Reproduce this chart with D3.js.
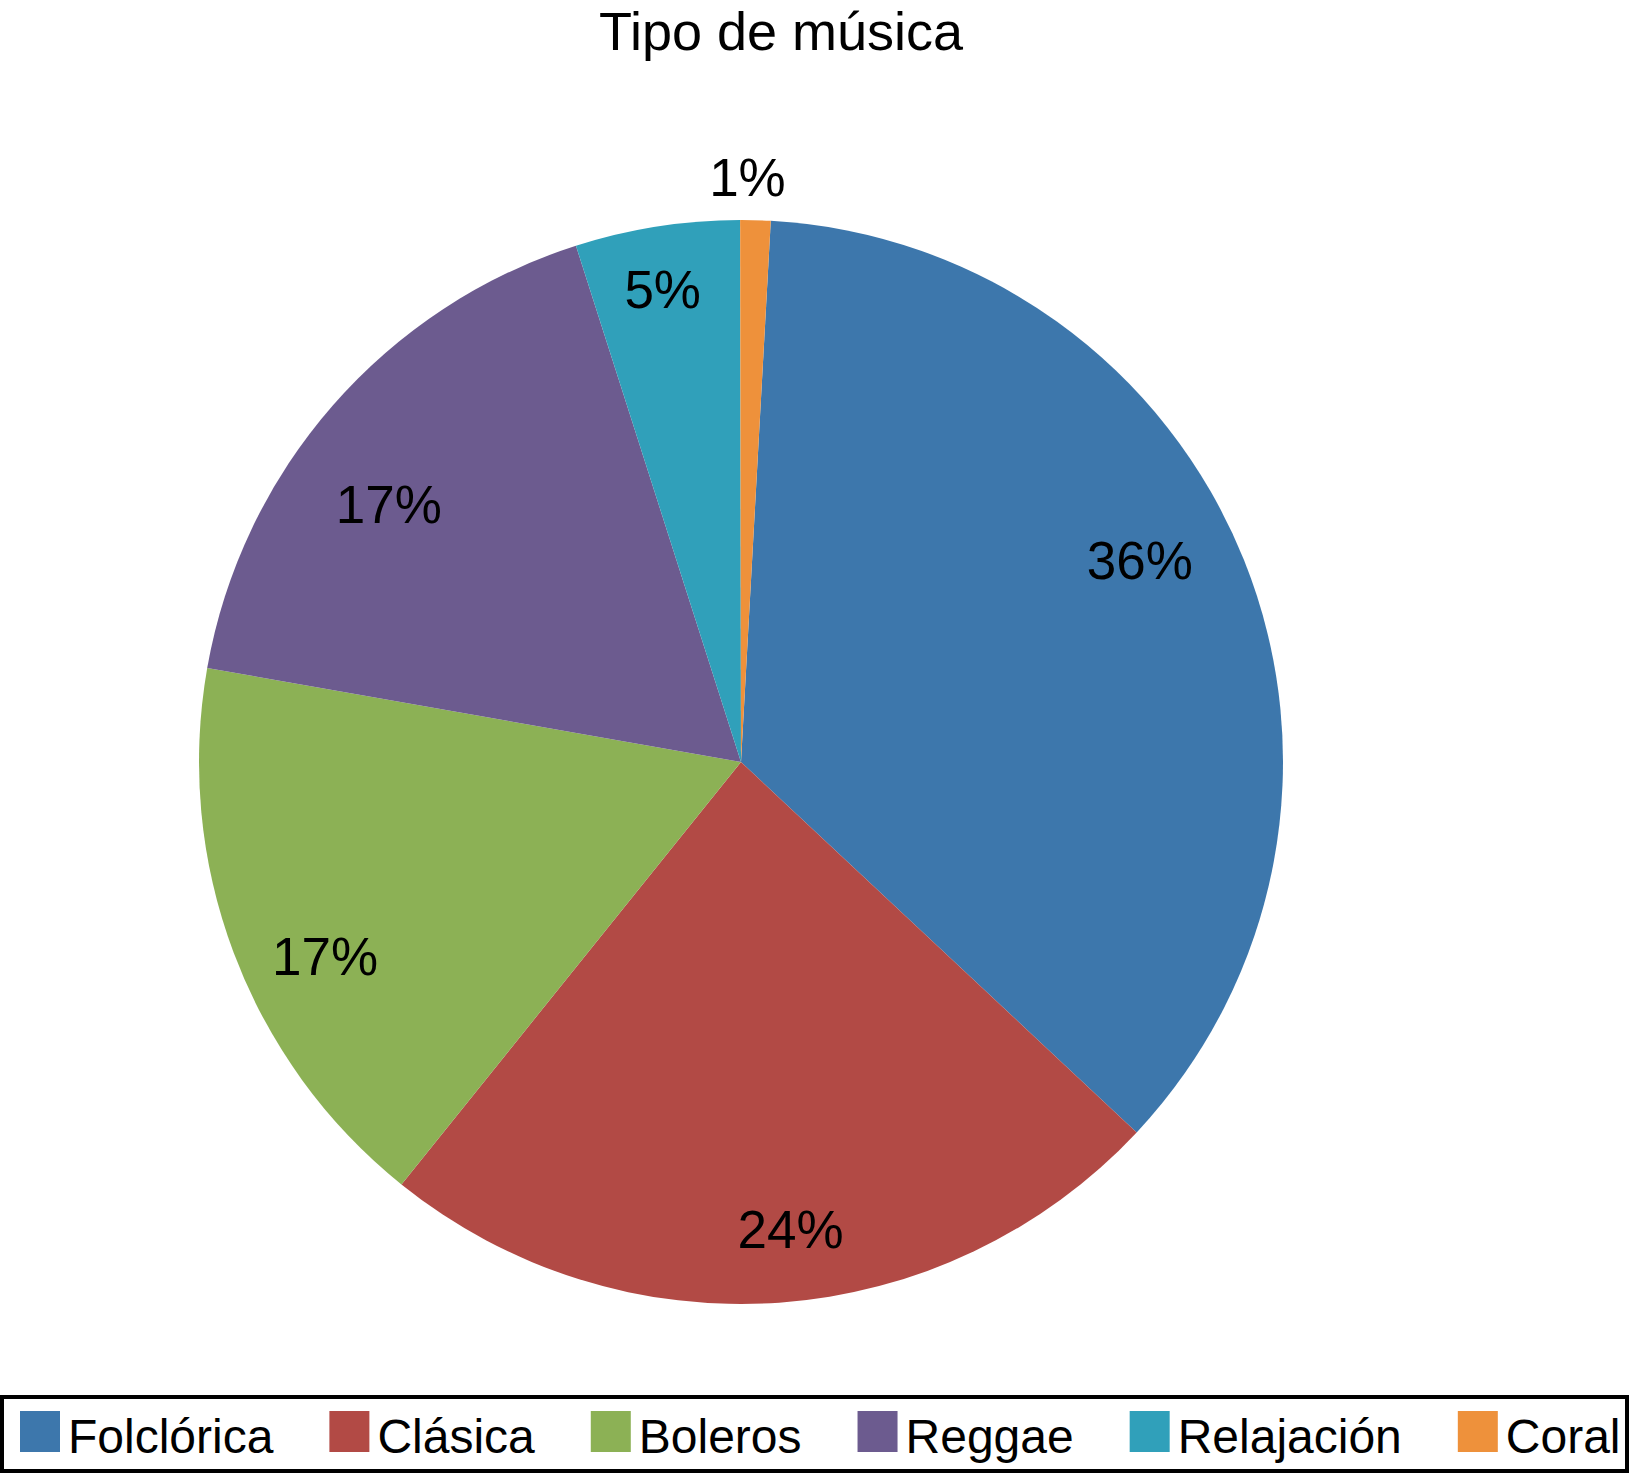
<!DOCTYPE HTML>
<html>
<head>
  <meta charset="utf-8">
  <title>Tipo de música</title>
  <script src="https://d3js.org/d3.v7.min.js" type="text/javascript"></script>
<style>
body { margin: 0; background: #fff; }
text { font-family: "Liberation Sans", Arial, Helvetica, sans-serif; fill: #000; }
</style>
</head>
<body>
<script>
// data (percent of answers)
const categories = ["Folclórica", "Clásica", "Boleros", "Reggae", "Relajación", "Coral"]
const values = [36.1, 23.8, 17.0, 17.3, 4.9, 0.9]
const colors = ["#3D77AC", "#B24A45", "#8CB155", "#6C5B8F", "#30A0BA", "#EE913B"]
const title = "Tipo de música"

// label placement tweaks (Excel "best fit"), degrees and radius
const labelNudge = [-5, -2, -4.4, -5, -0.5, -0.9]
const labelRadius = [447, 470, 459, 436, 479, 585]

const W = 1629, H = 1477
const cx = 741, cy = 762, R = 542
const rad = Math.PI / 180

var svg = d3.select("body").append("svg")
    .attr("width", W)
    .attr("height", H)

svg.append("text")
  .attr("x", 781)
  .attr("y", 50)
  .attr("text-anchor", "middle")
  .style("font-size", "54px")
  .text(title)

var data = categories.map(function(c, i) { return {name: c, value: values[i], color: colors[i], i: i} })

var pie = d3.pie()
    .sort(null)
    .value(function(d) { return d.value })
    .startAngle(3.15 * rad)
    .endAngle(3.15 * rad + 2 * Math.PI)

var arc = d3.arc().innerRadius(0).outerRadius(R)

var g = svg.append("g").attr("transform", "translate(" + cx + "," + cy + ")")

var arcs = pie(data)
g.selectAll("path.slice")
  .data(arcs)
  .enter().append("path")
  .attr("class", "slice")
  .attr("d", arc)
  .attr("fill", function(d) { return d.data.color })

g.selectAll("text.lbl")
  .data(arcs)
  .enter().append("text")
  .attr("class", "lbl")
  .attr("transform", function(d) {
    var i = d.data.i
    var a = (d.startAngle + d.endAngle) / 2 + labelNudge[i] * rad
    var r = labelRadius[i]
    var c = d3.arc().innerRadius(r).outerRadius(r).centroid({startAngle: a, endAngle: a})
    return "translate(" + c[0] + "," + c[1] + ")"
  })
  .attr("dy", "0.35em")
  .attr("text-anchor", "middle")
  .style("font-size", "53px")
  .text(function(d) { return Math.round(d.data.value) + "%" })

// legend
var leg = svg.append("g")
leg.append("rect")
  .attr("x", 2).attr("y", 1397)
  .attr("width", W - 4).attr("height", 74)
  .attr("fill", "none")
  .attr("stroke", "#000")
  .attr("stroke-width", 4)

var xpos = 20
data.forEach(function(d) {
  leg.append("rect")
    .attr("x", xpos).attr("y", 1411)
    .attr("width", 40).attr("height", 41)
    .attr("fill", d.color)
  var t = leg.append("text")
    .attr("x", xpos + 48)
    .attr("y", 1453)
    .style("font-size", "48px")
    .text(d.name)
  xpos = xpos + 48 + t.node().getComputedTextLength() + 56
})
</script>
</body>
</html>
